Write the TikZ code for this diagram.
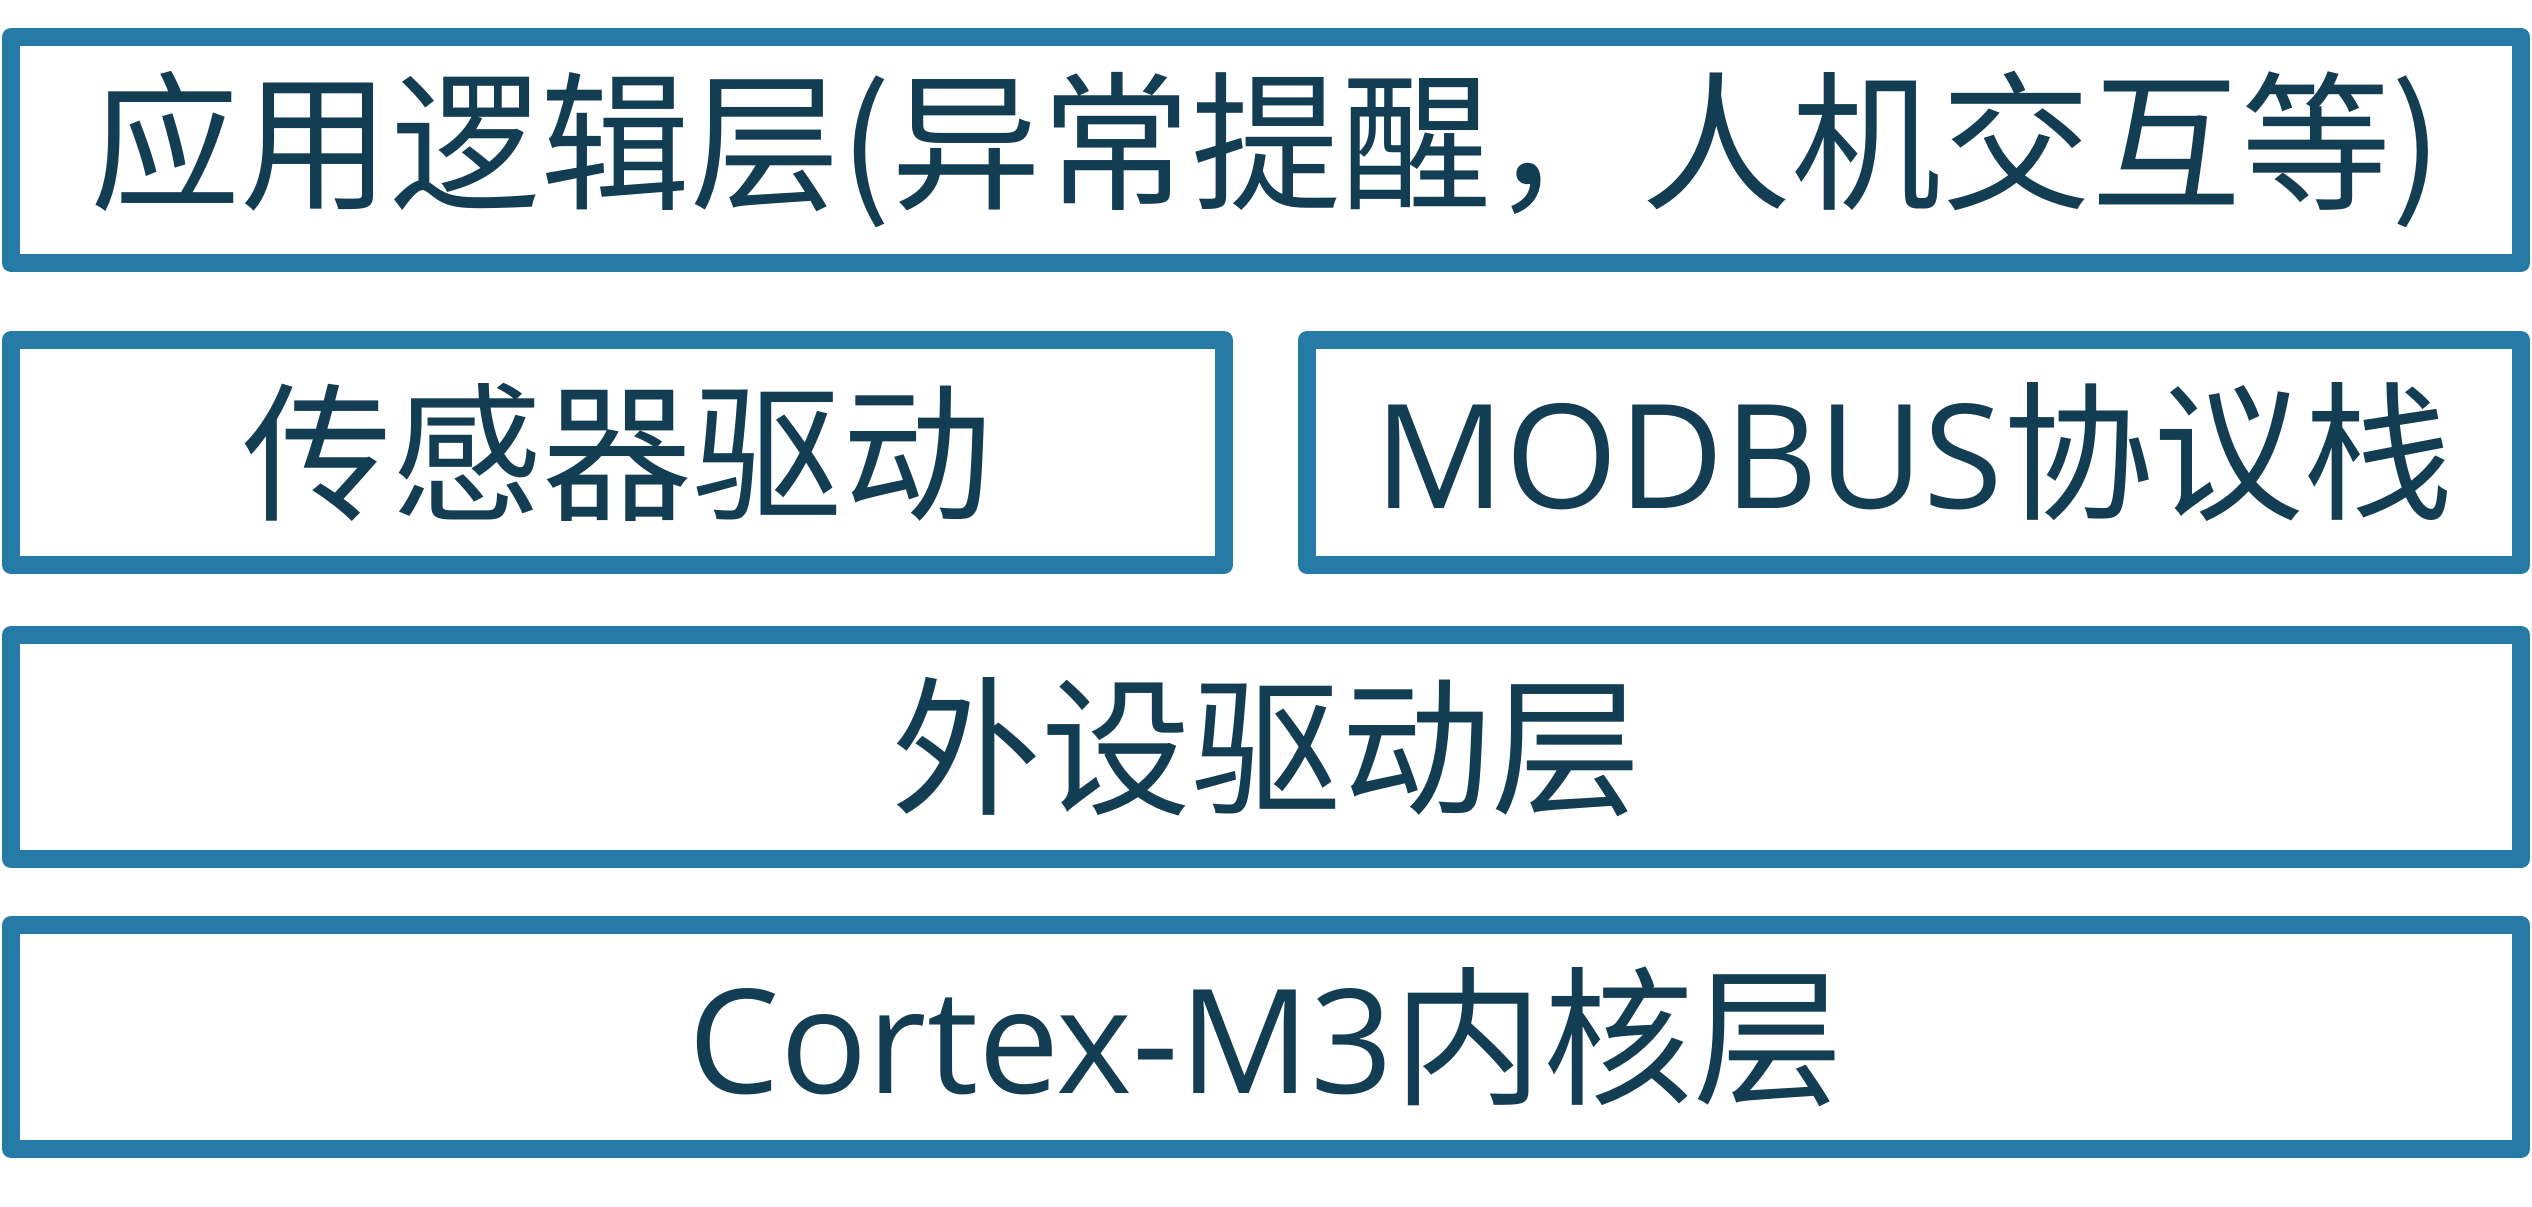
\documentclass[tikz,border=0pt]{standalone}
\usepackage{fontspec}
\newfontfamily\cjk{Noto Sans CJK SC}
\newfontfamily\lat{Open Sans}
\definecolor{boxblue}{HTML}{267BA6}
\definecolor{txtcol}{HTML}{133D53}
\newcommand{\latxt}[1]{{\lat\fontsize{145pt}{150pt}\selectfont #1}}
\begin{document}
\begin{tikzpicture}[x=1pt,y=-1pt,
  layer/.style={draw=boxblue, line width=18pt, line join=round, fill=white,
    text=txtcol, inner sep=0pt, font=\cjk\fontsize{150pt}{150pt}\selectfont}]
\useasboundingbox (0,0) rectangle (2532,1207);
\node[layer, minimum width=2510pt, minimum height=226pt] (app) at (1266,150)
  {应用逻辑层(异常提醒，人机交互等)};
\node[layer, minimum width=1213pt, minimum height=225pt] (sensor) at (617.5,452.5)
  {传感器驱动};
\node[layer, minimum width=1214pt, minimum height=225pt] (modbus) at (1914,452.5)
  {\latxt{MODBUS}协议栈};
\node[layer, minimum width=2510pt, minimum height=224pt] (periph) at (1266,747)
  {外设驱动层};
\node[layer, minimum width=2510pt, minimum height=224pt] (core) at (1266,1037)
  {\latxt{Cortex-M3}内核层};
\end{tikzpicture}
\end{document}
